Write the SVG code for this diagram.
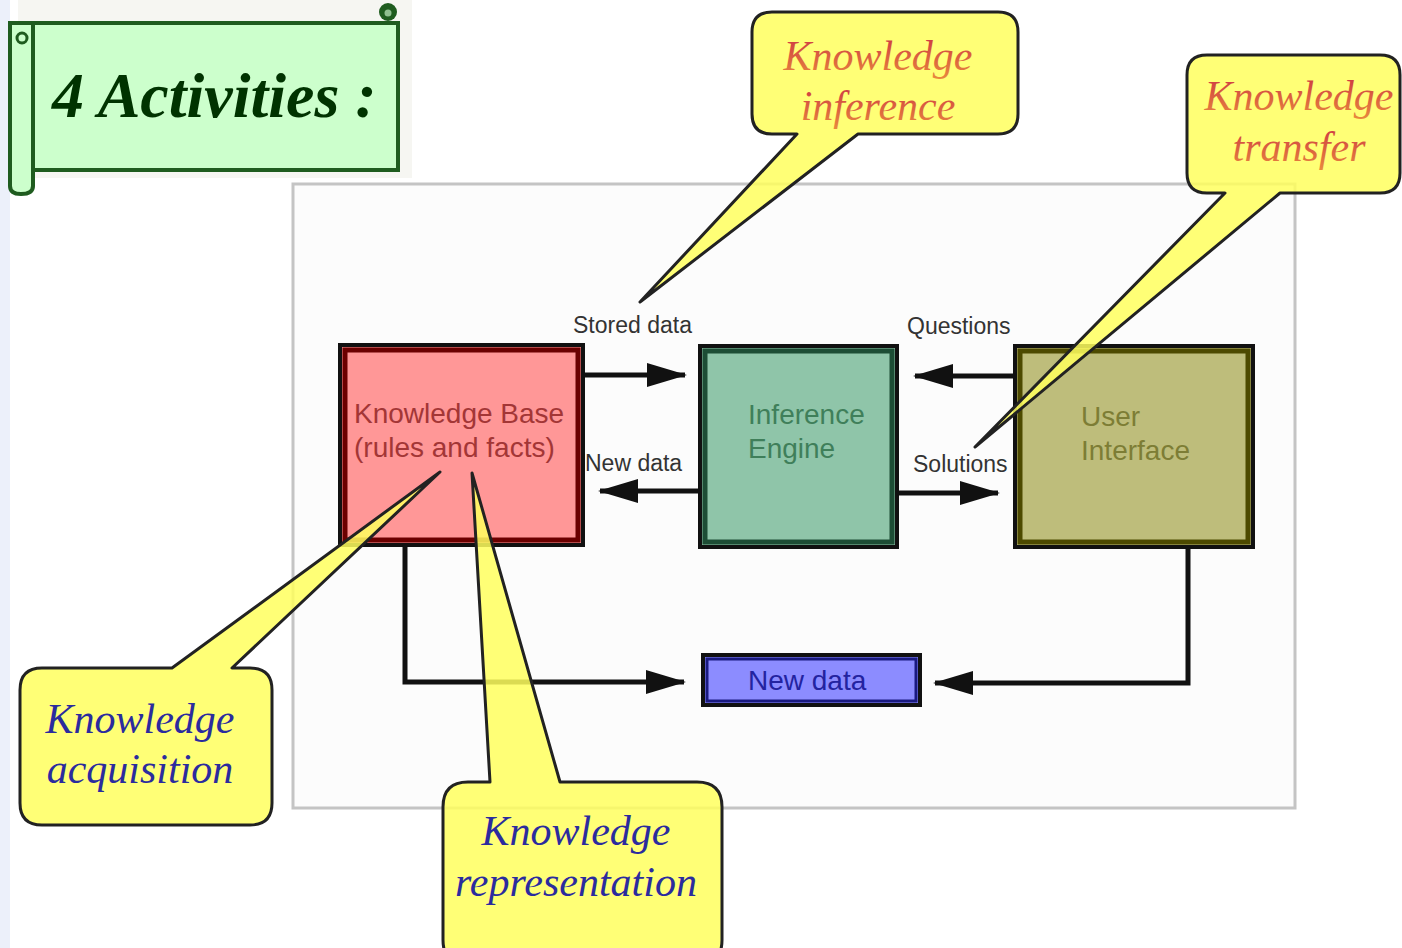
<svg xmlns="http://www.w3.org/2000/svg" width="1402" height="948" viewBox="0 0 1402 948">
<style>
.lbl{font-family:"Liberation Sans",Arial,sans-serif;font-size:23px;fill:#333}
.nt{font-family:"Liberation Sans",Arial,sans-serif;font-size:28px}
.ct{font-family:"Liberation Serif","Times New Roman",serif;font-style:italic;font-size:42px;text-anchor:middle}
.call{fill:#ffff5e;fill-opacity:0.85;stroke:#222;stroke-width:3;stroke-linejoin:round}
.con{fill:none;stroke:#111;stroke-width:5}
.outer{stroke:#111;stroke-width:4}
</style>
<defs>
<marker id="ah" markerUnits="userSpaceOnUse" markerWidth="40" markerHeight="24" refX="38" refY="12" orient="auto">
<path d="M0,0 L40,12 L0,24 Z" fill="#111"/>
</marker>
<linearGradient id="rg" x1="0" y1="0" x2="0" y2="1">
<stop offset="0" stop-color="#cc3344"/>
<stop offset="1" stop-color="#e88a3c"/>
</linearGradient>
</defs>
<rect x="0" y="0" width="1402" height="948" fill="#ffffff"/>
<rect x="0" y="0" width="10" height="948" fill="#ecf0fa"/>

<g id="banner">
<rect x="18" y="0" width="394" height="178" fill="#f6f6f2"/>
<rect x="33" y="23" width="365" height="147" fill="#ccffcc" stroke="#1f5c1f" stroke-width="4"/>
<path d="M10,23 H33 V186 Q33,194 21,194 Q10,194 10,186 Z" fill="#ccffcc" stroke="#1f5c1f" stroke-width="4"/>
<circle cx="22" cy="38" r="5" fill="#ccffcc" stroke="#1f5c1f" stroke-width="3"/>
<circle cx="388" cy="12" r="9" fill="#1f5c1f"/>
<circle cx="388" cy="13" r="3.5" fill="#8fbf8f"/>
<text x="52" y="117" font-family="'Liberation Serif','Times New Roman',serif" font-style="italic" font-weight="bold" font-size="64" fill="#003300">4 Activities :</text>
</g>

<g id="frame">
<rect x="293" y="184" width="1002" height="624" fill="#fcfcfc" stroke="#c4c4c4" stroke-width="3"/>
</g>

<g id="knowledge-base">
<rect x="340" y="345" width="243" height="200" fill="#ff9797" class="outer"/>
<rect x="345" y="350" width="233" height="190" fill="none" stroke="#6b0000" stroke-width="5"/>
<text class="nt" x="354" y="423" fill="#a33636">Knowledge Base</text>
<text class="nt" x="354" y="457" fill="#a33636">(rules and facts)</text>
</g>

<g id="inference-engine">
<rect x="700" y="346" width="197" height="201" fill="#8fc5a9" class="outer"/>
<rect x="705" y="351" width="187" height="191" fill="none" stroke="#1d4d35" stroke-width="5"/>
<text class="nt" x="748" y="424" fill="#3f7f5a">Inference</text>
<text class="nt" x="748" y="458" fill="#3f7f5a">Engine</text>
</g>

<g id="user-interface">
<rect x="1015" y="346" width="238" height="201" fill="#bebd7b" class="outer"/>
<rect x="1020" y="351" width="228" height="191" fill="none" stroke="#4d4a00" stroke-width="5"/>
<text class="nt" x="1081" y="426" fill="#7d7d35">User</text>
<text class="nt" x="1081" y="460" fill="#7d7d35">Interface</text>
</g>

<g id="new-data">
<rect x="703" y="655" width="217" height="50" fill="#8c8cff" class="outer"/>
<rect x="707" y="659" width="209" height="42" fill="none" stroke="#1a1a80" stroke-width="3"/>
<text class="nt" x="748" y="690" font-size="27" fill="#2323a0">New data</text>
</g>

<g id="connectors">
<line class="con" x1="583" y1="375" x2="685" y2="375" marker-end="url(#ah)"/>
<line class="con" x1="700" y1="491" x2="600" y2="491" marker-end="url(#ah)"/>
<line class="con" x1="1015" y1="376" x2="915" y2="376" marker-end="url(#ah)"/>
<line class="con" x1="897" y1="493" x2="998" y2="493" marker-end="url(#ah)"/>
<polyline class="con" points="405,545 405,682 684,682" marker-end="url(#ah)"/>
<polyline class="con" points="1188,547 1188,683 935,683" marker-end="url(#ah)"/>
<text class="lbl" x="573" y="333">Stored data</text>
<text class="lbl" x="585" y="471">New data</text>
<text class="lbl" x="907" y="334">Questions</text>
<text class="lbl" x="913" y="472">Solutions</text>
</g>

<g id="callout-inference">
<path class="call" d="M772,12 H998 Q1018,12 1018,32 V114 Q1018,134 998,134 H858 L640,302 L797,134 H772 Q752,134 752,114 V32 Q752,12 772,12 Z"/>
<text class="ct" x="878" y="70" fill="url(#rg)">Knowledge</text>
<text class="ct" x="878" y="120" fill="url(#rg)">inference</text>
</g>

<g id="callout-transfer">
<path class="call" d="M1207,55 H1380 Q1400,55 1400,75 V173 Q1400,193 1380,193 H1280 L975,447 L1225,193 H1207 Q1187,193 1187,173 V75 Q1187,55 1207,55 Z"/>
<text class="ct" x="1299" y="110" fill="url(#rg)">Knowledge</text>
<text class="ct" x="1299" y="161" fill="url(#rg)">transfer</text>
</g>

<g id="callout-acquisition">
<path class="call" d="M42,668 H172 L440,472 L232,668 H250 Q272,668 272,690 V803 Q272,825 250,825 H42 Q20,825 20,803 V690 Q20,668 42,668 Z"/>
<text class="ct" x="140" y="733" fill="#2b2b9e">Knowledge</text>
<text class="ct" x="140" y="783" fill="#2b2b9e">acquisition</text>
</g>

<g id="callout-representation">
<path class="call" d="M468,782 H490 L472,473 L560,782 H697 Q722,782 722,807 V940 Q722,965 697,965 H468 Q443,965 443,940 V807 Q443,782 468,782 Z"/>
<text class="ct" x="576" y="845" fill="#2b2b9e">Knowledge</text>
<text class="ct" x="576" y="896" fill="#2b2b9e">representation</text>
</g>
</svg>
